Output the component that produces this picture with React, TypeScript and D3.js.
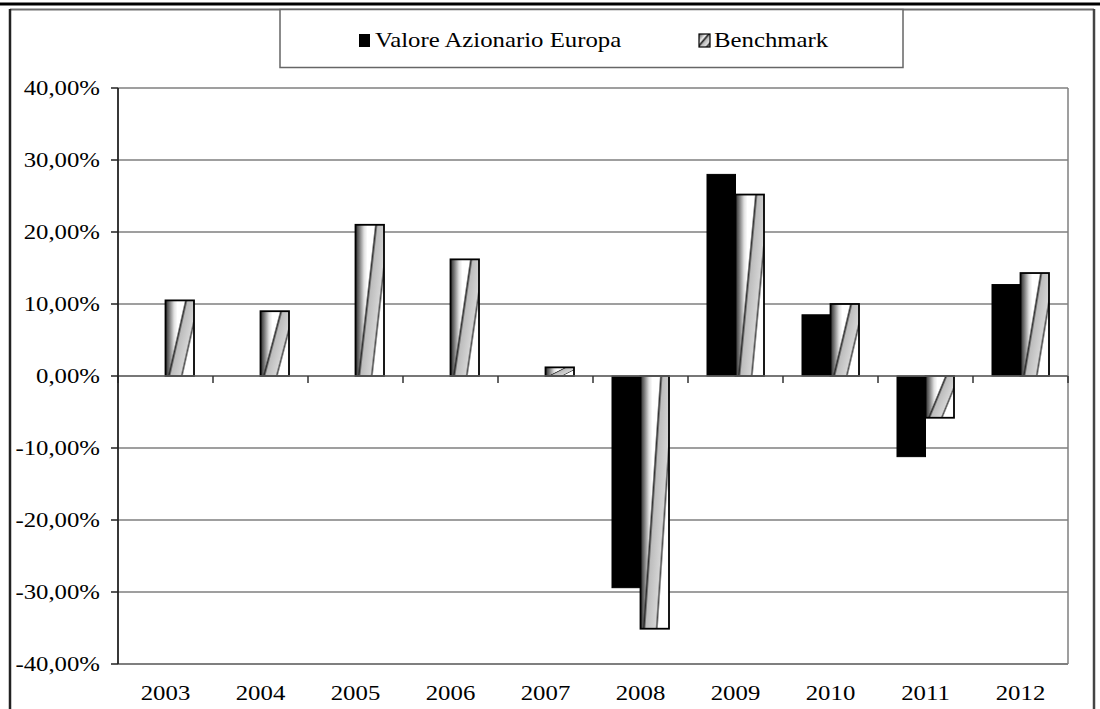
import React from 'react';
import * as d3 from 'd3';

const years = ['2003', '2004', '2005', '2006', '2007', '2008', '2009', '2010', '2011', '2012'];
const valoreAzionario: (number | null)[] = [null, null, null, null, null, -29.4, 28.0, 8.5, -11.2, 12.7];
const benchmark: number[] = [10.5, 9.0, 21.0, 16.2, 1.2, -35.1, 25.2, 10.0, -5.8, 14.3];
const yTicks = [40, 30, 20, 10, 0, -10, -20, -30, -40];
const seriesNames = ['Valore Azionario Europa', 'Benchmark'];

const W = 1100;
const H = 709;
const plot = { left: 118, right: 1068, top: 88, bottom: 664 };
const FONT = "'Liberation Serif', 'Times New Roman', serif";
const SX = 1.18;

const itLocale = d3.formatLocale({
  decimal: ',',
  thousands: '.',
  grouping: [3],
  currency: ['€', ''],
  minus: '-',
});
const fmt = (v: number) => itLocale.format('.2f')(v) + '%';

function SText(props: { x: number; y: number; anchor?: string; children: React.ReactNode }) {
  return (
    <text
      transform={`translate(${props.x},${props.y}) scale(${SX},1)`}
      textAnchor={props.anchor || 'start'}
      fontFamily={FONT}
      fontSize={21}
      fill="#000"
    >
      {props.children}
    </text>
  );
}

export default function App() {
  const x0 = d3
    .scaleBand<string>()
    .domain(years)
    .range([plot.left, plot.right])
    .paddingInner(0.4)
    .paddingOuter(0.2);
  const step = x0.step();
  const x1 = d3.scaleBand<string>().domain(seriesNames).range([0, x0.bandwidth()]);
  const y = d3.scaleLinear().domain([-40, 40]).range([plot.bottom, plot.top]);
  const y0 = y(0);

  const boundaries = d3.range(years.length + 1).map((i) => plot.left + i * step);

  return (
    <svg
      width={W}
      height={H}
      viewBox={`0 0 ${W} ${H}`}
      style={{ position: 'absolute', left: 0, top: 0, background: '#fff' }}
    >
      <defs>
        <linearGradient id="shade" x1="0" y1="0" x2="1" y2="0">
          <stop offset="0" stopColor="#2a2a2a" />
          <stop offset="0.12" stopColor="#707070" />
          <stop offset="0.3" stopColor="#e0e0e0" />
          <stop offset="0.42" stopColor="#ffffff" />
          <stop offset="1" stopColor="#ffffff" />
        </linearGradient>
        <linearGradient id="stripe" x1="0" y1="0" x2="1" y2="0.6">
          <stop offset="0" stopColor="#000" stopOpacity="0" />
          <stop offset="0.49" stopColor="#000" stopOpacity="0" />
          <stop offset="0.53" stopColor="#262626" stopOpacity="0.95" />
          <stop offset="0.58" stopColor="#bdbdbd" stopOpacity="1" />
          <stop offset="0.82" stopColor="#d4d4d4" stopOpacity="1" />
          <stop offset="0.86" stopColor="#3a3a3a" stopOpacity="0.9" />
          <stop offset="0.9" stopColor="#fff" stopOpacity="1" />
          <stop offset="1" stopColor="#fff" stopOpacity="1" />
        </linearGradient>
        <linearGradient id="legendHatch" x1="0" y1="0" x2="1" y2="1">
          <stop offset="0" stopColor="#555" />
          <stop offset="0.35" stopColor="#eee" />
          <stop offset="0.45" stopColor="#222" />
          <stop offset="0.55" stopColor="#bbb" />
          <stop offset="0.75" stopColor="#ddd" />
          <stop offset="0.85" stopColor="#333" />
          <stop offset="1" stopColor="#fff" />
        </linearGradient>
      </defs>

      {/* page header line */}
      <line x1={0} x2={W} y1={4} y2={4} stroke="#000" strokeWidth={3} />
      {/* outer chart frame */}
      <line x1={10} x2={1094} y1={9.5} y2={9.5} stroke="#6e6e6e" strokeWidth={2} />
      <line x1={10} x2={10} y1={9} y2={H} stroke="#222" strokeWidth={2.5} />
      <line x1={1094} x2={1094} y1={9} y2={H} stroke="#444" strokeWidth={2.5} />

      {/* legend */}
      <rect x={280} y={9.5} width={623} height={58} fill="#fff" stroke="#666" strokeWidth={1.5} />
      <rect x={359} y={34} width={11} height={13} fill="#000" />
      <SText x={375} y={47}>{seriesNames[0]}</SText>
      <rect x={699} y={34} width={11} height={13} fill="url(#legendHatch)" stroke="#000" strokeWidth={1.2} />
      <SText x={714} y={47}>{seriesNames[1]}</SText>

      {/* gridlines */}
      {yTicks.map((t) => (
        <line
          key={'g' + t}
          x1={plot.left}
          x2={plot.right}
          y1={y(t)}
          y2={y(t)}
          stroke={t === -40 ? '#555' : '#7f7f7f'}
          strokeWidth={1.5}
        />
      ))}
      {/* right border of plot area */}
      <line x1={plot.right} x2={plot.right} y1={plot.top} y2={plot.bottom} stroke="#7f7f7f" strokeWidth={1.5} />

      {/* bars */}
      {years.map((yr, i) => {
        const gx = x0(yr) as number;
        const v1 = valoreAzionario[i];
        const v2 = benchmark[i];
        const bw = x1.bandwidth();
        const bx1 = gx + (x1(seriesNames[0]) as number);
        const bx2 = gx + (x1(seriesNames[1]) as number);
        return (
          <g key={yr}>
            {v1 !== null && (
              <rect
                x={bx1}
                y={Math.min(y(v1), y0)}
                width={bw}
                height={Math.abs(y(v1) - y0)}
                fill="#000"
                stroke="#000"
                strokeWidth={1}
              />
            )}
            <rect
              x={bx2}
              y={Math.min(y(v2), y0)}
              width={bw}
              height={Math.abs(y(v2) - y0)}
              fill="url(#shade)"
            />
            <rect
              x={bx2}
              y={Math.min(y(v2), y0)}
              width={bw}
              height={Math.abs(y(v2) - y0)}
              fill="url(#stripe)"
              stroke="#000"
              strokeWidth={1.8}
            />
          </g>
        );
      })}

      {/* category axis at zero */}
      <line x1={plot.left} x2={plot.right} y1={y0} y2={y0} stroke="#6a6a6a" strokeWidth={1.5} />
      {boundaries.map((bx, i) => (
        <line key={'xt' + i} x1={bx} x2={bx} y1={y0} y2={y0 + 7} stroke="#333" strokeWidth={1.5} />
      ))}

      {/* value axis */}
      <line x1={plot.left} x2={plot.left} y1={plot.top} y2={plot.bottom} stroke="#222" strokeWidth={1.8} />
      {yTicks.map((t) => (
        <g key={'yt' + t}>
          <line x1={plot.left - 7} x2={plot.left} y1={y(t)} y2={y(t)} stroke="#222" strokeWidth={1.5} />
          <SText x={100} y={y(t) + 7} anchor="end">
            {fmt(t)}
          </SText>
        </g>
      ))}

      {/* category labels */}
      {years.map((yr) => (
        <SText key={'xl' + yr} x={(x0(yr) as number) + x0.bandwidth() / 2} y={700} anchor="middle">
          {yr}
        </SText>
      ))}
    </svg>
  );
}
